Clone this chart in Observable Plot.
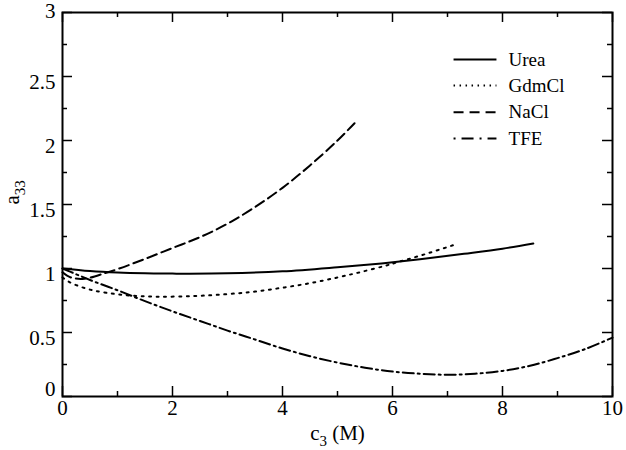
<!DOCTYPE html>
<html>
<head>
<meta charset="utf-8">
<script src="https://cdn.jsdelivr.net/npm/d3@7"></script>
<script src="https://cdn.jsdelivr.net/npm/@observablehq/plot@0.6"></script>
<style>
  html, body { margin: 0; padding: 0; background: #fff; }
  svg text { font-family: "Liberation Serif", "Times New Roman", serif !important; }
</style>
</head>
<body>
<div id="chart"></div>
<script>
// ---------- data ----------
const seriesNames = ["Urea", "GdmCl", "NaCl", "TFE"];

const ureaX = [0, 0.5, 1, 1.5, 2, 3, 4, 5, 5.8, 6.5, 7.3, 8, 8.56];
const ureaY = [1.0, 0.98, 0.968, 0.962, 0.96, 0.962, 0.978, 1.01, 1.04, 1.072, 1.115, 1.155, 1.195];

const gdmX = [0, 0.1, 0.25, 0.5, 0.8, 1.2, 1.7, 2.4, 3, 3.5, 4, 4.5, 5, 5.4, 5.84, 6.1, 6.6, 7.16];
const gdmY = [0.93, 0.9, 0.87, 0.835, 0.81, 0.79, 0.78, 0.785, 0.8, 0.82, 0.85, 0.885, 0.93, 0.97, 1.018, 1.05, 1.113, 1.19];

const naclX = [0, 0.15, 0.4, 0.78, 1, 1.5, 2, 2.5, 3, 3.5, 4, 4.5, 5, 5.31];
const naclY = [0.97, 0.93, 0.92, 0.965, 0.995, 1.075, 1.16, 1.245, 1.35, 1.48, 1.63, 1.805, 2.0, 2.135];

const tfeX = [0, 0.25, 0.5, 1, 1.5, 2, 2.5, 3, 3.5, 4, 4.5, 5, 5.5, 6, 6.5, 7, 7.5, 8, 8.5, 9, 9.5, 10];
const tfeY = [1.0, 0.955, 0.91, 0.83, 0.745, 0.665, 0.59, 0.515, 0.445, 0.375, 0.315, 0.265, 0.225, 0.195, 0.178, 0.17, 0.178, 0.2, 0.24, 0.3, 0.37, 0.46];

const xMajor = [0, 2, 4, 6, 8, 10];
const xMinor = [1, 3, 5, 7, 9];
const yMajor = [0, 0.5, 1, 1.5, 2, 2.5, 3];
const yMinor = [0.25, 0.75, 1.25, 1.75, 2.25, 2.75];
const yTickText = ["0", "0.5", "1", "1.5", "2", "2.5", "3"];

const xTitle = "c3 (M)";
const yTitle = "a33";

// ---------- layout ----------
const W = 626, H = 450;
const mL = 62, mR = 14, mT = 12, mB = 54;
const innerW = W - mL - mR, innerH = H - mT - mB;
const serif = "'Liberation Serif', 'Times New Roman', serif";

const zip = (xs, ys) => xs.map((x, i) => ({x, y: ys[i]}));
const series = [
  {data: zip(ureaX, ureaY), dash: null, legendDash: null},
  {data: zip(gdmX, gdmY), dash: "2,5.5", legendDash: "1.5,4.5"},
  {data: zip(naclX, naclY), dash: "10,5", legendDash: "10,6"},
  {data: zip(tfeX, tfeY), dash: "11,4,2,4", legendDash: "2,6,12,6"}
];

// legend placement (data coordinates inside the frame)
const legX1 = 7.11, legX2 = 7.89, legTextX = 8.11;
const legRowY = [2.633, 2.43, 2.22, 2.016];

const marks = [];

// curves
series.forEach(s => {
  marks.push(Plot.line(s.data, {
    x: "x", y: "y", stroke: "black", strokeWidth: 2,
    strokeDasharray: s.dash, curve: "catmull-rom"
  }));
});

// legend
series.forEach((s, i) => {
  marks.push(Plot.link([seriesNames[i]], {
    x1: () => legX1, x2: () => legX2, y1: () => legRowY[i], y2: () => legRowY[i],
    stroke: "black", strokeWidth: 2, strokeDasharray: s.legendDash
  }));
});
marks.push(Plot.text(seriesNames, {
  x: () => legTextX, y: (d, i) => legRowY[i], text: d => d,
  textAnchor: "start", fontSize: 19, fontFamily: serif, fill: "black"
}));

// inward ticks on all four sides
marks.push(Plot.tickX(xMajor, {x: d => d, insetTop: innerH - 10, stroke: "black", strokeWidth: 1.5}));
marks.push(Plot.tickX(xMinor, {x: d => d, insetTop: innerH - 5, stroke: "black", strokeWidth: 1.5}));
marks.push(Plot.tickX(xMajor, {x: d => d, insetBottom: innerH - 10, stroke: "black", strokeWidth: 1.5}));
marks.push(Plot.tickX(xMinor, {x: d => d, insetBottom: innerH - 5, stroke: "black", strokeWidth: 1.5}));
marks.push(Plot.tickY(yMajor, {y: d => d, insetRight: innerW - 10, stroke: "black", strokeWidth: 1.5}));
marks.push(Plot.tickY(yMinor, {y: d => d, insetRight: innerW - 5, stroke: "black", strokeWidth: 1.5}));
marks.push(Plot.tickY(yMajor, {y: d => d, insetLeft: innerW - 10, stroke: "black", strokeWidth: 1.5}));
marks.push(Plot.tickY(yMinor, {y: d => d, insetLeft: innerW - 5, stroke: "black", strokeWidth: 1.5}));

// tick labels
marks.push(Plot.axisX(xMajor, {anchor: "bottom", tickSize: 0, tickPadding: 4, fontSize: 21, fontFamily: serif, fill: "black", label: null}));
const yFmt = d => yTickText[yMajor.indexOf(d)];
const yInner = yMajor.slice(1, -1), yBottom = yMajor.slice(0, 1), yTop = yMajor.slice(-1);
marks.push(Plot.axisY(yInner, {anchor: "left", tickSize: 0, tickPadding: 7, dy: 6, fontSize: 21, fontFamily: serif, fill: "black", label: null, tickFormat: yFmt}));
marks.push(Plot.axisY(yBottom, {anchor: "left", tickSize: 0, tickPadding: 7, dy: -7, fontSize: 21, fontFamily: serif, fill: "black", label: null, tickFormat: yFmt}));
marks.push(Plot.axisY(yTop, {anchor: "left", tickSize: 0, tickPadding: 7, dy: -1, fontSize: 21, fontFamily: serif, fill: "black", label: null, tickFormat: yFmt}));

// axis titles
marks.push(Plot.text([xTitle], {frameAnchor: "bottom", dy: 43, text: d => d, fontSize: 21, fontFamily: serif, fill: "black"}));
marks.push(Plot.text([yTitle], {frameAnchor: "left", dx: -50, rotate: -90, text: d => d, fontSize: 21, fontFamily: serif, fill: "black"}));

// frame
marks.push(Plot.frame({stroke: "black", strokeWidth: 2}));

const chart = Plot.plot({
  width: W, height: H,
  marginLeft: mL, marginRight: mR, marginTop: mT, marginBottom: mB,
  x: {domain: [0, 10], label: null, axis: null},
  y: {domain: [0, 3], label: null, axis: null},
  style: {fontFamily: serif, fontSize: "21px", color: "black", background: "white", overflow: "visible"},
  marks
});

// subscripts in axis titles
function subscriptify(textEl, parts) {
  while (textEl.firstChild) textEl.removeChild(textEl.firstChild);
  let shifted = false;
  for (const [str, sub] of parts) {
    const ts = document.createElementNS("http://www.w3.org/2000/svg", "tspan");
    ts.textContent = str;
    if (sub) { ts.setAttribute("font-size", "15"); ts.setAttribute("dy", "6"); shifted = true; }
    else if (shifted) { ts.setAttribute("dy", "-6"); shifted = false; }
    textEl.appendChild(ts);
  }
}
chart.querySelectorAll("text").forEach(t => {
  if (t.textContent === xTitle) subscriptify(t, [["c", false], ["3", true], [" (M)", false]]);
  else if (t.textContent === yTitle) subscriptify(t, [["a", false], ["33", true]]);
});

document.getElementById("chart").appendChild(chart);
</script>
</body>
</html>
